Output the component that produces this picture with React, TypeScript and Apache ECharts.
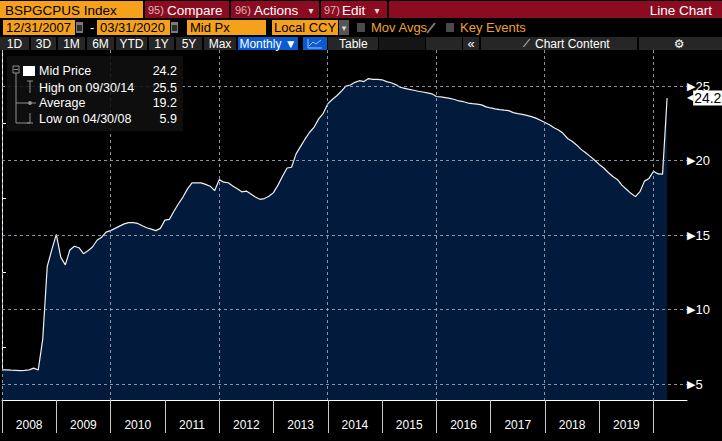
import React, { useEffect, useRef } from 'react';
import * as echarts from 'echarts';

// ---------- data ----------
const YEARS = ['2008', '2009', '2010', '2011', '2012', '2013', '2014', '2015', '2016', '2017', '2018', '2019'];

// Monthly mid price, 12/31/2007 .. 03/31/2020
const PRICES = [
  5.95, 5.95, 5.93, 5.92, 5.9, 5.92, 5.95, 6.07, 5.94, 8.0,
  12.9, 14.0, 15.05, 13.5, 13.0, 14.0, 14.25, 14.15, 13.75, 13.95,
  14.2, 14.65, 14.85, 15.2, 15.3, 15.45, 15.6, 15.75, 15.83, 15.83,
  15.78, 15.62, 15.49, 15.4, 15.3, 15.45, 16.0, 16.05, 16.6, 17.1,
  17.55, 18.1, 18.5, 18.51, 18.5, 18.4, 18.28, 17.98, 18.72, 18.55,
  18.51, 18.3, 18.1, 17.9, 17.95, 17.75, 17.55, 17.4, 17.45, 17.6,
  17.85, 18.35, 18.95, 19.5, 19.55, 20.45, 20.95, 21.45, 21.9, 22.25,
  22.8, 23.17, 23.8, 24.1, 24.35, 24.65, 25.0, 25.07, 25.25, 25.36,
  25.3, 25.5, 25.45, 25.45, 25.42, 25.3, 25.22, 25.1, 24.92, 24.85,
  24.78, 24.72, 24.65, 24.6, 24.54, 24.48, 24.3, 24.27, 24.22, 24.17,
  24.1, 24.0, 23.95, 23.86, 23.82, 23.79, 23.74, 23.6, 23.53, 23.47,
  23.42, 23.38, 23.35, 23.22, 23.15, 23.1, 23.03, 22.95, 22.85, 22.7,
  22.55, 22.4, 22.2, 22.05, 21.83, 21.48, 21.3, 21.05, 20.75, 20.52,
  20.28, 20.02, 19.74, 19.5, 19.2, 18.93, 18.73, 18.35, 18.07, 17.8,
  17.58, 17.91, 18.62, 18.8, 19.28, 19.1, 19.09, 24.2,
];

const Y_TICKS = [5, 10, 15, 20, 25];
const Y_MINOR_TICKS = [7.5, 12.5, 17.5, 22.5];

const LEGEND_LABELS = ['Mid Price', 'High on 09/30/14', 'Average', 'Low on 04/30/08'];
const LEGEND_VALUES = ['24.2', '25.5', '19.2', '5.9'];

const PERIOD_BUTTONS = ['1D', '3D', '1M', '6M', 'YTD', '1Y', '5Y', 'Max'];

// axis extents (months since 12/31/2007, price)
const X_MAX = 151.4;
const Y_MIN = 3.93;
const Y_MAX = 27.42;
const X_GRID_STEP = 24; // vertical grid every two years

const FONT = "'Liberation Sans', Arial, sans-serif";
const ORANGE = '#f5a11c';
const ORANGE_TXT = '#f0a030';
const RED = '#8b0c20';
const PINK = '#d8b4ba';
const BTN = '#262626';
const GRAY = '#8e8e8e';
const GRID_COLOR = 'rgba(165,172,185,0.85)';

function buildGraphics() {
  const g: any[] = [];
  const rect = (x: number, y: number, w: number, h: number, fill: string, extra: any = {}) =>
    g.push({ type: 'rect', silent: true, z: 100, shape: { x, y, width: w, height: h }, style: { fill, ...extra } });
  const text = (x: number, y: number, t: string, fill: string, size = 13, align = 'left', family = FONT) =>
    g.push({
      type: 'text', silent: true, z: 101, x, y,
      style: { text: t, fill, fontSize: size, fontFamily: family, align, verticalAlign: 'middle' },
    });
  const line = (x1: number, y1: number, x2: number, y2: number, stroke: string, w = 1) =>
    g.push({ type: 'line', silent: true, z: 101, shape: { x1, y1, x2, y2 }, style: { stroke, lineWidth: w } });

  // Row 1
  rect(0, 1, 143, 17, ORANGE);
  text(5, 10, 'BSPGCPUS Index', '#000', 13.5);
  rect(145, 1, 84, 17, RED);
  text(148, 10, '95)', PINK, 11);
  text(167, 10, 'Compare', '#fff', 13.5);
  rect(231, 1, 88, 17, RED);
  text(235, 10, '96)', PINK, 11);
  text(254, 10, 'Actions', '#fff', 13.5);
  text(311, 10, '▾', '#ddd', 10, 'center', 'DejaVu Sans');
  rect(321, 1, 66, 17, RED);
  text(324, 10, '97)', PINK, 11);
  text(342, 10, 'Edit', '#fff', 13.5);
  text(377, 10, '▾', '#ddd', 10, 'center', 'DejaVu Sans');
  rect(389, 1, 333, 17, RED);
  text(712, 10, 'Line Chart', '#fff', 13.5, 'right');

  // Row 2
  const cal = (x: number) => {
    rect(x, 22, 7, 11, '#7a7a7a');
    rect(x + 1, 25, 5, 6, '#2e2e2e');
  };
  rect(3, 20, 72, 15, ORANGE);
  text(6, 27.5, '12/31/2007', '#000', 13);
  cal(76);
  text(90, 27.5, '-', '#fff', 13);
  rect(97, 20, 73, 15, ORANGE);
  text(100, 27.5, '03/31/2020', '#000', 13);
  cal(171);
  rect(187, 20, 79, 15, ORANGE);
  text(190, 27.5, 'Mid Px', '#000', 13);
  rect(272, 20, 66, 15, ORANGE);
  text(274, 27.5, 'Local CCY', '#000', 13);
  rect(339, 20, 10, 15, '#555');
  text(344, 27.5, '▾', '#ddd', 9, 'center', 'DejaVu Sans');
  rect(357, 23, 8, 9, '#4a4a4a');
  text(371, 27.5, 'Mov Avgs', ORANGE_TXT, 13);
  line(427, 33, 435, 23, '#7a7a7a', 2);
  rect(446, 23, 8, 9, '#4a4a4a');
  text(460, 27.5, 'Key Events', ORANGE_TXT, 13);

  // Row 3
  const btnPos = [[0, 29], [31, 56], [58, 85], [87, 114], [116, 147], [149, 174], [176, 202], [204, 236]];
  PERIOD_BUTTONS.forEach((lbl, k) => {
    const [a, b] = btnPos[k];
    rect(a, 37, b - a, 13, BTN);
    text((a + b) / 2, 43.5, lbl, '#fff', 12, 'center');
  });
  rect(238, 37, 60, 13, '#0b5ad0');
  text(268, 43.5, 'Monthly ▼', '#fff', 12, 'center');
  rect(303, 37, 24, 13, '#0b5ad0');
  g.push({
    type: 'polyline', silent: true, z: 101,
    shape: { points: [[308, 39], [308, 48], [322, 48]] }, style: { stroke: '#9cc3ff', fill: 'none', lineWidth: 1 },
  });
  g.push({
    type: 'polyline', silent: true, z: 101,
    shape: { points: [[309, 46], [313, 42], [316, 44], [321, 40]] }, style: { stroke: '#9cc3ff', fill: 'none', lineWidth: 1 },
  });
  rect(328, 37, 50, 13, BTN);
  text(339, 43.5, 'Table', '#fff', 12);
  rect(379, 37, 46, 13, '#151515');
  rect(426, 37, 36, 13, BTN);
  rect(463, 37, 16, 13, BTN);
  text(471, 43.5, '«', '#fff', 13, 'center');
  rect(481, 37, 156, 13, BTN);
  text(526, 43.5, '⟋', '#fff', 10, 'center', 'DejaVu Sans');
  text(535, 43.5, 'Chart Content', '#fff', 12);
  rect(639, 37, 83, 13, BTN);
  text(679, 43.5, '⚙', '#fff', 12, 'center', 'DejaVu Sans');

  // Legend box
  rect(7, 56, 176, 75, 'rgba(16,16,16,0.86)');
  g.push({
    type: 'rect', silent: true, z: 101, shape: { x: 13, y: 66, width: 6, height: 7 },
    style: { fill: 'none', stroke: GRAY, lineWidth: 1 },
  });
  line(14, 69.5, 18, 69.5, GRAY);
  line(16, 73, 16, 123, GRAY);
  line(16, 123, 30, 123, GRAY);
  line(27, 81, 33, 81, GRAY);
  line(30, 81, 30, 93, GRAY);
  line(16, 103, 36, 103, GRAY);
  g.push({ type: 'circle', silent: true, z: 101, shape: { cx: 30, cy: 103, r: 2 }, style: { fill: GRAY } });
  line(30, 113, 30, 123, GRAY);
  line(27, 123, 33, 123, GRAY);
  rect(23, 66, 12, 10, '#fff');
  const rowsY = [71, 87.5, 103, 118.5];
  LEGEND_LABELS.forEach((lbl, k) => {
    text(39, rowsY[k], lbl, '#fff', 12.5);
    text(177, rowsY[k], LEGEND_VALUES[k], '#fff', 12.5, 'right');
  });
  return g;
}

export default function App() {
  const ref = useRef<HTMLDivElement>(null);
  useEffect(() => {
    document.body.style.margin = '0';
    document.body.style.background = '#000';
    if (!ref.current) return;
    const chart = echarts.init(ref.current, null, { renderer: 'svg' });

    const yearBounds = YEARS.map((_, k) => k * 12).concat([YEARS.length * 12]);
    const yearMids = YEARS.map((_, k) => k * 12 + 6);
    const xGridValues = yearBounds.filter((v) => v % X_GRID_STEP === 0);
    const last = PRICES[PRICES.length - 1];
    const priceData = PRICES.map((v, i) => [i, v]);

    chart.setOption({
      animation: false,
      backgroundColor: '#000',
      grid: { left: 2, right: 35, top: 50, bottom: 41, outerBoundsMode: 'none', containLabel: false },
      xAxis: {
        type: 'value',
        min: 0,
        max: X_MAX,
        interval: X_GRID_STEP,
        axisLine: { show: true, onZero: false, lineStyle: { color: '#fff', width: 1 } },
        axisTick: { show: true, customValues: yearBounds, length: 33, lineStyle: { color: '#c8c8c8' } },
        axisLabel: {
          customValues: yearMids,
          formatter: (v: number) => YEARS[Math.floor(v / 12)] ?? '',
          color: '#fff',
          fontSize: 12,
          fontFamily: FONT,
          margin: 19,
        },
        splitLine: { show: false },
      },
      yAxis: [
        {
          type: 'value',
          position: 'right',
          min: Y_MIN,
          max: Y_MAX,
          splitNumber: 5,
          axisLine: { show: true, lineStyle: { color: '#fff', width: 1 } },
          axisTick: { show: true, customValues: Y_MINOR_TICKS, length: 4, lineStyle: { color: '#fff' } },
          axisLabel: {
            customValues: Y_TICKS,
            margin: 0,
            formatter: (v: number) => `{a|▶}{b|${v}}`,
            rich: {
              a: { fontSize: 11, color: '#fff', fontFamily: 'DejaVu Sans' },
              b: { fontSize: 13, color: '#fff', fontFamily: FONT },
            },
          },
          splitLine: { show: false },
        },
        {
          // last-price marker on the value scale
          type: 'value',
          position: 'right',
          min: Y_MIN,
          max: Y_MAX,
          splitNumber: 5,
          z: 6,
          axisLine: { show: false },
          axisTick: { show: false },
          splitLine: { show: false },
          axisLabel: {
            customValues: [last],
            margin: 0,
            formatter: (v: number) => `{a|◀}{b|${v}}`,
            rich: {
              a: { fontSize: 8, color: '#fff', fontFamily: 'DejaVu Sans', backgroundColor: '#000', padding: [2, 0, 2, 0] },
              b: { fontSize: 14, color: '#000', fontFamily: FONT, backgroundColor: '#fff', padding: [1, 1, 0, 1] },
            },
          },
        },
      ],
      series: [
        {
          type: 'line',
          data: priceData,
          showSymbol: false,
          symbol: 'none',
          z: 2,
          lineStyle: { color: '#f0f0f0', width: 1.2 },
          areaStyle: { color: '#021b3d', opacity: 1, origin: 'start' },
        },
      ],
    });

    // dashed grid drawn on top of the area, positioned through the chart's own scales
    const px = (v: number) => chart.convertToPixel({ xAxisIndex: 0 }, v) as number;
    const py = (v: number) => chart.convertToPixel({ yAxisIndex: 0 }, v) as number;
    const crisp = (v: number) => Math.round(v - 0.5) + 0.5;
    const xl = px(0);
    const xr = px(X_MAX);
    const yb = py(Y_MIN);
    const yt = py(Y_MAX);
    const gridEls: any[] = [];
    Y_TICKS.forEach((v) => {
      const y = crisp(py(v));
      gridEls.push({
        type: 'line', silent: true, z: 50,
        shape: { x1: xl, y1: y, x2: xr, y2: y },
        style: { stroke: GRID_COLOR, lineWidth: 1, lineDash: [3, 3] },
      });
    });
    xGridValues.forEach((v) => {
      const x = crisp(px(v));
      gridEls.push({
        type: 'line', silent: true, z: 50,
        shape: { x1: x, y1: yt, x2: x, y2: yb },
        style: { stroke: GRID_COLOR, lineWidth: 1, lineDash: [3, 3] },
      });
    });

    chart.setOption({ graphic: [...gridEls, ...buildGraphics()] });
    return () => chart.dispose();
  }, []);
  return <div ref={ref} style={{ width: 722, height: 441 }} />;
}
